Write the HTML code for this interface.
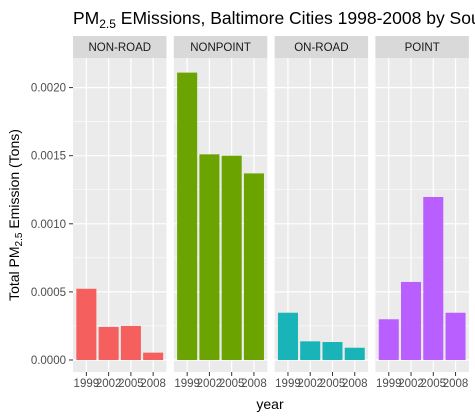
<!DOCTYPE html>
<html><head><meta charset="utf-8"><style>
body{margin:0;background:#fff;}
svg{display:block;font-family:"Liberation Sans",sans-serif;}
</style></head><body>
<svg id="c" width="475" height="418"></svg>
<script>
const panels = ["NON-ROAD","NONPOINT","ON-ROAD","POINT"];
const years = ["1999","2002","2005","2008"];
const nonRoad = [0.000523,0.000243,0.00025,0.000054];
const nonPoint = [0.00211,0.00151,0.00150,0.00137];
const onRoad = [0.000347,0.000137,0.000132,0.00009];
const pointSrc = [0.000299,0.000573,0.001197,0.000347];
const series = [nonRoad,nonPoint,onRoad,pointSrc];
const colors = ["#f5605e","#6ba300","#19b4b8","#b95eff"];
const yTicks = [0,0.0005,0.0010,0.0015,0.0020];
const yTickLabels = ["0.0000","0.0005","0.0010","0.0015","0.0020"];

const NS="http://www.w3.org/2000/svg";
const svg=document.getElementById('c');
function mk(tag,attrs,parent){const e=document.createElementNS(NS,tag);for(const k in attrs)e.setAttribute(k,attrs[k]);(parent||svg).appendChild(e);return e;}
const plotTop=58,plotBottom=372,pw=93.5,step=100.8,left0=73;
const yS=v=>360-v*136200;
const xc=(p,i)=>left0+p*step+(i+0.6)*(pw/4.2);

let t=mk('text',{x:73,y:24,'font-size':17.5,fill:'#000'});


t.innerHTML='PM<tspan font-size="12" dy="4">2.5</tspan><tspan dy="-4"> EMissions, Baltimore Cities 1998-2008 by Source</tspan>';

let yt=mk('text',{transform:'translate(19,215) rotate(-90)','text-anchor':'middle','font-size':14,fill:'#000'});


yt.innerHTML='Total PM<tspan font-size="10" dy="3">2.5</tspan><tspan dy="-3"> Emission (Tons)</tspan>';

let xt=mk('text',{x:270,y:409,'text-anchor':'middle','font-size':14,fill:'#000'});


xt.textContent='year';

yTicks.forEach((v,k)=>{
  let l=mk('text',{x:66,y:yS(v)+4,'text-anchor':'end','font-size':11.5,fill:'#4d4d4d'});
  
  
  l.textContent=yTickLabels[k];
  mk('line',{x1:69,x2:73,y1:yS(v),y2:yS(v),stroke:'#333','stroke-width':1});
});

panels.forEach((name,p)=>{
  const x0=left0+p*step;
  let g=mk('g',{});
  
  
  let s=mk('rect',{x:x0,y:36,width:pw,height:22,fill:'#d9d9d9'},g);
  
  
  let st=mk('text',{x:x0+pw/2,y:51,'text-anchor':'middle','font-size':11.5,fill:'#1a1a1a'},g);
  
  
  st.textContent=name;
  mk('rect',{x:x0,y:plotTop,width:pw,height:plotBottom-plotTop,fill:'#ebebeb'},g);
  for(let k=0;k<yTicks.length;k++){
    const mv=yTicks[k]+0.00025;
    if(yS(mv)>plotTop) mk('line',{x1:x0,x2:x0+pw,y1:yS(mv),y2:yS(mv),stroke:'#fff','stroke-width':0.6},g);
    mk('line',{x1:x0,x2:x0+pw,y1:yS(yTicks[k]),y2:yS(yTicks[k]),stroke:'#fff','stroke-width':1.2},g);
  }
  years.forEach((yr,i)=>{
    const cx=xc(p,i);
    mk('line',{x1:cx,x2:cx,y1:plotTop,y2:plotBottom,stroke:'#fff','stroke-width':1.2},g);
  });
  series[p].forEach((v,i)=>{
    const cx=xc(p,i),bw=0.9*pw/4.2;
    let b=mk('rect',{x:cx-bw/2,y:yS(v),width:bw,height:yS(0)-yS(v),fill:colors[p]},g);
    
    
  });
  years.forEach((yr,i)=>{
    const cx=xc(p,i);
    mk('line',{x1:cx,x2:cx,y1:plotBottom,y2:plotBottom+4,stroke:'#333','stroke-width':1},g);
    let l=mk('text',{x:cx,y:plotBottom+15,'text-anchor':'middle','font-size':11.5,fill:'#4d4d4d'},g);
    
    
    l.textContent=yr;
  });
});
</script>
</body></html>
